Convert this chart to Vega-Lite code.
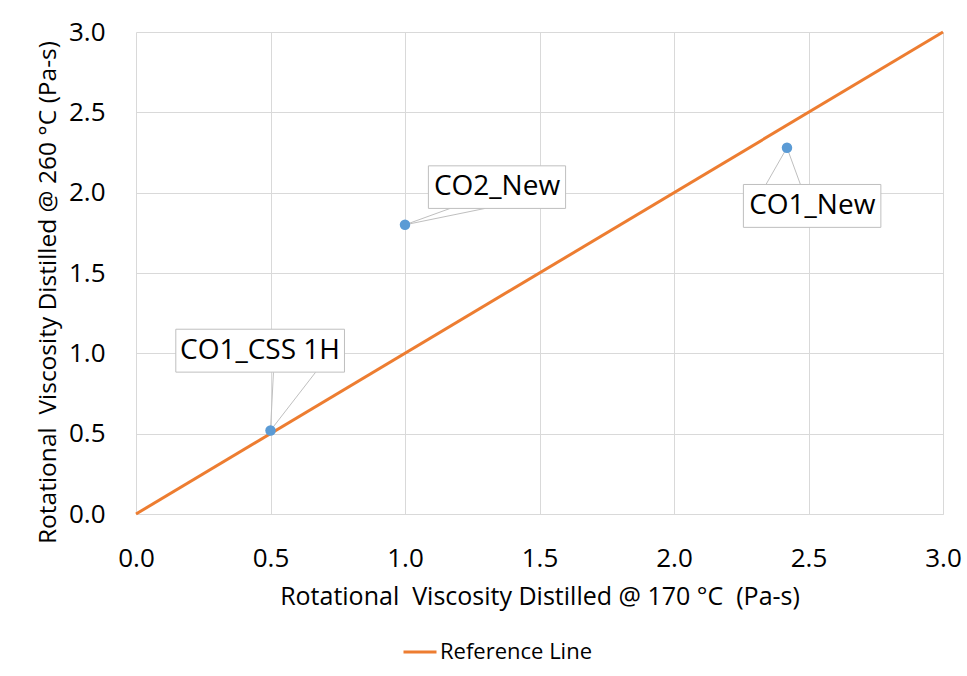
{
  "$schema": "https://vega.github.io/schema/vega-lite/v6.json",
  "width": 807,
  "height": 482,
  "autosize": "none",
  "padding": {"left": 136, "top": 32, "right": 24, "bottom": 162},
  "background": "white",
  "config": {
    "font": "Open Sans",
    "view": {"stroke": null},
    "axis": {
      "gridColor": "#D9D9D9",
      "gridWidth": 1,
      "domainColor": "#D9D9D9",
      "domainWidth": 1,
      "ticks": false,
      "labelFont": "Open Sans",
      "labelFontSize": 26,
      "labelColor": "#000000",
      "titleFont": "Open Sans",
      "titleFontWeight": "normal",
      "titleColor": "#000000"
    }
  },
  "datasets": {
    "pts": [
      {"name": "CO1_CSS 1H", "x170": 0.5, "y260": 0.52},
      {"name": "CO2_New", "x170": 1.0, "y260": 1.8},
      {"name": "CO1_New", "x170": 2.42, "y260": 2.28}
    ],
    "ref": [
      {"x170": 0, "y260": 0, "series": "Reference Line"},
      {"x170": 3, "y260": 3, "series": "Reference Line"}
    ],
    "labels": [
      {"name": "CO1_CSS 1H", "lx": 0.461, "ly": 1.016, "bx1": 0.148, "bx2": 0.775, "by1": 0.883, "by2": 1.15},
      {"name": "CO2_New", "lx": 1.342, "ly": 2.034, "bx1": 1.087, "bx2": 1.597, "by1": 1.902, "by2": 2.167},
      {"name": "CO1_New", "lx": 2.514, "ly": 1.917, "bx1": 2.258, "bx2": 2.769, "by1": 1.784, "by2": 2.051}
    ],
    "leaders": [
      {"sx": 0.511, "sy": 0.883, "px": 0.5, "py": 0.52},
      {"sx": 0.668, "sy": 0.883, "px": 0.5, "py": 0.52},
      {"sx": 1.168, "sy": 1.902, "px": 1.0, "py": 1.8},
      {"sx": 1.298, "sy": 1.902, "px": 1.0, "py": 1.8},
      {"sx": 2.342, "sy": 2.051, "px": 2.42, "py": 2.28},
      {"sx": 2.47, "sy": 2.051, "px": 2.42, "py": 2.28}
    ]
  },
  "layer": [
    {
      "data": {"name": "ref"},
      "mark": {"type": "line", "strokeWidth": 3, "clip": false},
      "encoding": {
        "x": {
          "field": "x170", "type": "quantitative",
          "scale": {"domain": [0, 3], "nice": false, "zero": false},
          "axis": {
            "values": [0, 0.5, 1, 1.5, 2, 2.5, 3],
            "format": ".1f",
            "labelPadding": 44,
            "labelBaseline": "middle",
            "labelFlush": false,
            "title": "Rotational\u00a0 Viscosity Distilled @ 170 °C\u00a0 (Pa-s)",
            "titleFontSize": 25,
            "titleBaseline": "alphabetic",
            "titleY": 90
          }
        },
        "y": {
          "field": "y260", "type": "quantitative",
          "scale": {"domain": [0, 3], "nice": false, "zero": false},
          "axis": {
            "values": [0, 0.5, 1, 1.5, 2, 2.5, 3],
            "format": ".1f",
            "labelPadding": 31,
            "labelFlush": false,
            "domain": false,
            "title": "Rotational\u00a0 Viscosity Distilled @ 260 °C (Pa-s)",
            "titleFontSize": 24.5,
            "titleBaseline": "alphabetic",
            "titleAngle": -90,
            "titleAlign": "center",
            "titleX": -81,
            "titleY": 260
          }
        },
        "color": {
          "field": "series", "type": "nominal",
          "scale": {"range": ["#ED7D31"]},
          "legend": {
            "orient": "none",
            "legendX": 266,
            "legendY": 602,
            "title": null,
            "symbolType": "stroke",
            "symbolSize": 1089,
            "symbolStrokeWidth": 3,
            "labelFontSize": 22,
            "labelFont": "Open Sans",
            "labelColor": "#000000",
            "labelOffset": 2
          }
        }
      }
    },
    {
      "data": {"name": "leaders"},
      "mark": {"type": "rule", "color": "#BFBFBF", "strokeWidth": 1},
      "encoding": {
        "x": {"field": "sx", "type": "quantitative"},
        "y": {"field": "sy", "type": "quantitative"},
        "x2": {"field": "px"},
        "y2": {"field": "py"}
      }
    },
    {
      "data": {"name": "pts"},
      "mark": {"type": "circle", "size": 110, "opacity": 1, "color": "#5B9BD5"},
      "encoding": {
        "x": {"field": "x170", "type": "quantitative"},
        "y": {"field": "y260", "type": "quantitative"}
      }
    },
    {
      "data": {"name": "labels"},
      "mark": {"type": "rect", "fill": "white", "stroke": "#BFBFBF", "strokeWidth": 1},
      "encoding": {
        "x": {"field": "bx1", "type": "quantitative"},
        "x2": {"field": "bx2"},
        "y": {"field": "by1", "type": "quantitative"},
        "y2": {"field": "by2"}
      }
    },
    {
      "data": {"name": "labels"},
      "mark": {"type": "text", "fontSize": 28, "font": "Open Sans", "color": "#000000", "align": "center", "baseline": "middle"},
      "encoding": {
        "x": {"field": "lx", "type": "quantitative"},
        "y": {"field": "ly", "type": "quantitative"},
        "text": {"field": "name"}
      }
    }
  ]
}
